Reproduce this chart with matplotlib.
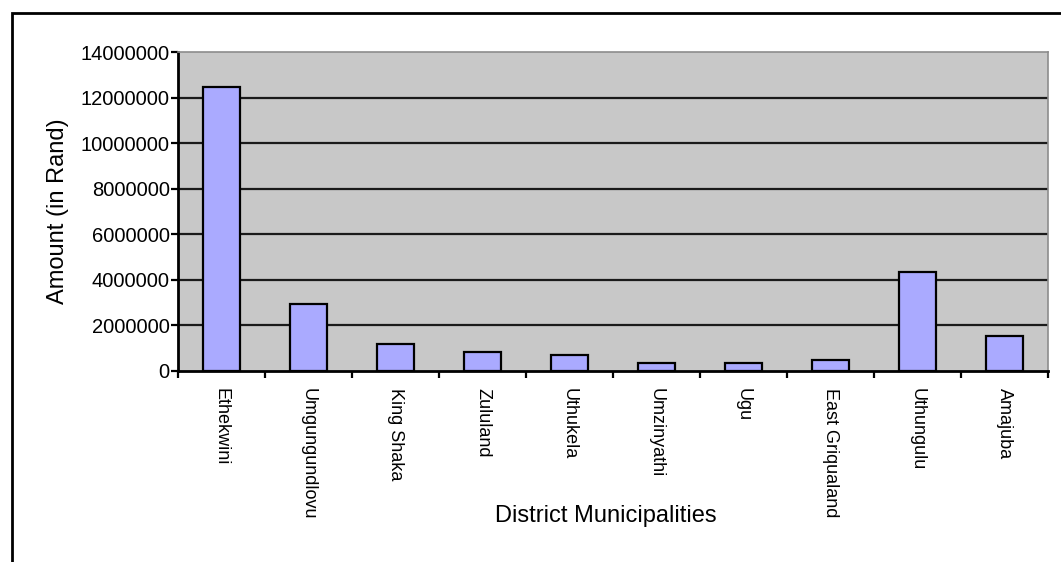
import matplotlib
matplotlib.use("Agg")
import matplotlib.pyplot as plt
from matplotlib.patches import Rectangle
from matplotlib.ticker import FixedLocator

plt.rcParams['font.family'] = ['Liberation Sans', 'DejaVu Sans']

districts = ["Ethekwini", "Umgungundlovu", "King Shaka", "Zululand", "Uthukela",
             "Umzinyathi", "Ugu", "East Griqualand", "Uthungulu", "Amajuba"]
amounts = [12450000, 2930000, 1170000, 820000, 720000,
           370000, 360000, 470000, 4340000, 1530000]
y_ticks = [0, 2000000, 4000000, 6000000, 8000000, 10000000, 12000000, 14000000]

W, H = 1061, 562
fig = plt.figure(figsize=(W / 100, H / 100), dpi=100)
fig.patch.set_facecolor("white")

# outer frame of the chart object
fig.add_artist(Rectangle((12 / W, -0.05), 1.2, 1 - 13 / H + 0.05,
                         transform=fig.transFigure, fill=False,
                         edgecolor="black", linewidth=2, zorder=10))

ax = fig.add_axes([178 / W, 1 - 371 / H, (1048 - 178) / W, (371 - 52) / H])
ax.set_facecolor("#c8c8c8")

x = list(range(len(districts)))
ax.bar(x, amounts, width=0.43, color="#aaaaff", edgecolor="black",
       linewidth=1.6, zorder=3)

for v in y_ticks[1:-1]:
    ax.axhline(v, color="#1a1a1a", linewidth=1.6, zorder=1)

ax.set_xlim(-0.5, len(districts) - 0.5)
ax.set_ylim(0, 14000000)
ax.set_yticks(y_ticks)
ax.set_yticklabels([str(v) for v in y_ticks], fontsize=14.5)

ax.set_xticks(x)
ax.set_xticklabels(districts, rotation=-90, fontsize=13, va="top", ha="center")
ax.xaxis.set_minor_locator(FixedLocator([i - 0.5 for i in range(len(districts) + 1)]))
ax.tick_params(axis="x", which="major", length=0, pad=12)
ax.tick_params(axis="x", which="minor", length=5, width=1.6, direction="out")
ax.tick_params(axis="y", length=5, width=1.6, direction="out", pad=1)

for side in ("left", "bottom"):
    ax.spines[side].set_color("black")
    ax.spines[side].set_linewidth(2)
for side in ("top", "right"):
    ax.spines[side].set_color("#8c8c8c")
    ax.spines[side].set_linewidth(1.2)

ax.set_ylabel("Amount (in Rand)", fontsize=17, labelpad=8)
fig.text(606 / W, 1 - 516 / H, "District Municipalities", fontsize=17,
         ha="center", va="center")

fig.savefig("out.png", dpi=100)
